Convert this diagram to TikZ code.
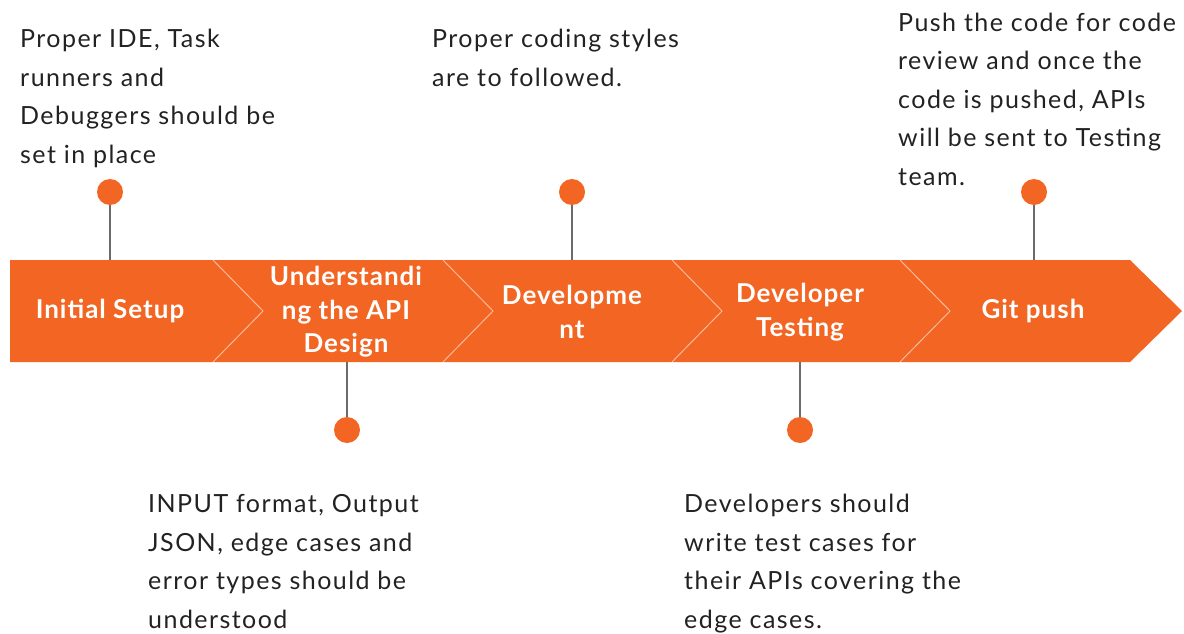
\documentclass[tikz,border=0pt]{standalone}
\usepackage{fontspec}
\setmainfont{Lato}
\newfontfamily\notefont[LetterSpace=5.8]{Lato}
\newfontfamily\lblfont[LetterSpace=3.8]{Lato}
\definecolor{brand}{HTML}{F26522}
\definecolor{txt}{HTML}{222222}
\definecolor{stem}{HTML}{6B6B6B}
\begin{document}
\begin{tikzpicture}[x=1pt,y=-1pt,
  note/.style={anchor=base west,align=left,inner sep=0pt,text=txt,font=\notefont\fontsize{25}{38.4}\selectfont},
  lbl/.style={align=center,inner sep=0pt,text=white,font=\lblfont\bfseries\fontsize{26}{33.5}\selectfont},
  dot/.style={circle,fill=brand,minimum size=26pt,inner sep=0pt},
  stemline/.style={draw=stem,line width=1.3pt},
  sep/.style={draw=white,draw opacity=0.55,line width=1pt}]
\useasboundingbox (0,0) rectangle (1184,634);
% band
\fill[brand] (10,260) -- (1130,260) -- (1182,311) -- (1130,362) -- (10,362) -- cycle;
\foreach \x in {213,443,672,900}{
  \draw[sep] (\x,260) -- (\x+50,311) -- (\x,362);
}
% labels
\node[lbl] (l1) at (110,311) {Initial Setup};
\node[lbl] (l2) at (346,312) {Understandi\\ng the API\\Design};
\node[lbl] (l3) at (572,312) {Developme\\nt};
\node[lbl] (l4) at (800,312) {Developer\\Testing};
\node[lbl] (l5) at (1033,311) {Git push};
% attach points
\coordinate (a1) at (110,260);
\coordinate (a2) at (347,362);
\coordinate (a3) at (572,260);
\coordinate (a4) at (800,362);
\coordinate (a5) at (1034,260);
% dots
\node[dot] (d1) at (110,192) {};
\node[dot] (d2) at (347,430) {};
\node[dot] (d3) at (572,192) {};
\node[dot] (d4) at (800,430) {};
\node[dot] (d5) at (1034,192) {};
\draw[stemline] (d1) -- (a1);
\draw[stemline] (d2) -- (a2);
\draw[stemline] (d3) -- (a3);
\draw[stemline] (d4) -- (a4);
\draw[stemline] (d5) -- (a5);
% notes (anchor = baseline of last line)
\node[note] (n1) at (20,163) {Proper IDE, Task\\runners and\\Debuggers should be\\set in place};
\node[note] (n3) at (432,86) {Proper coding styles\\are to followed.};
\node[note] (n5) at (898,185) {Push the code for code\\review and once the\\code is pushed, APIs\\will be sent to Testing\\team.};
\node[note] (n2) at (148,628) {INPUT format, Output\\JSON, edge cases and\\error types should be\\understood};
\node[note] (n4) at (684,628) {Developers should\\write test cases for\\their APIs covering the\\edge cases.};
\end{tikzpicture}
\end{document}
